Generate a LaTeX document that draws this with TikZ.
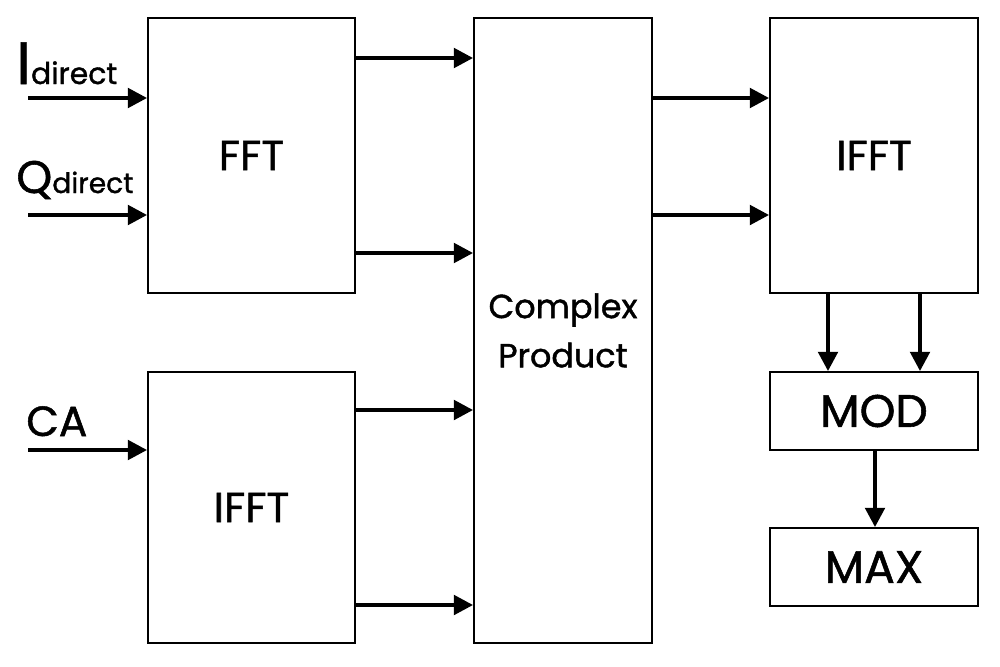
\documentclass[tikz,border=0pt]{standalone}
\usepackage{fontspec}
\setmainfont{Poppins}[FakeBold=1.2]
\usetikzlibrary{arrows.meta}
\begin{document}
\begin{tikzpicture}[x=0.02cm,y=-0.02cm,
  box/.style={draw,line width=1pt},
  arr/.style={line width=2.4pt,-{Triangle[length=11pt,width=11pt]}},
  lab/.style={anchor=base west,inner sep=0pt}]
\useasboundingbox (0,0) rectangle (1000,666);
\node[box,minimum width=207*0.02cm,minimum height=275*0.02cm,font=\fontsize{24}{24}\selectfont] (fft) at (251.5,155.5) {FFT};
\node[box,minimum width=207*0.02cm,minimum height=271*0.02cm,font=\fontsize{24}{24}\selectfont] (ifft1) at (251.5,507.5) {IFFT};
\node[box,minimum width=178*0.02cm,minimum height=625*0.02cm,font=\fontsize{19}{28}\selectfont,align=center] (cp) at (563,330.5) {Complex\\Product};
\node[box,minimum width=208*0.02cm,minimum height=275*0.02cm,font=\fontsize{24}{24}\selectfont] (ifft2) at (874,155.5) {IFFT};
\node[box,minimum width=208*0.02cm,minimum height=78*0.02cm,font=\fontsize{26}{26}\selectfont] (mod) at (874,411) {MOD};
\node[box,minimum width=208*0.02cm,minimum height=78*0.02cm,font=\fontsize{26}{26}\selectfont] (max) at (874,567) {MAX};
\node[lab] (li) at (16,84) {\fontsize{34}{34}\selectfont I\fontsize{17}{17}\selectfont direct};
\node[lab] (lq) at (16,193) {\fontsize{26}{26}\selectfont Q\fontsize{16}{16}\selectfont direct};
\node[lab] (lc) at (26,436) {\fontsize{24}{24}\selectfont CA};
\coordinate (i0) at (28,98); \coordinate (q0) at (28,215); \coordinate (c0) at (28,450);
\draw[arr] (i0) -- (fft.west|-i0);
\draw[arr] (q0) -- (fft.west|-q0);
\draw[arr] (c0) -- (ifft1.west|-c0);
\draw[arr] (fft.east|-0,58) -- (cp.west|-0,58);
\draw[arr] (fft.east|-0,253) -- (cp.west|-0,253);
\draw[arr] (ifft1.east|-0,410) -- (cp.west|-0,410);
\draw[arr] (ifft1.east|-0,605) -- (cp.west|-0,605);
\draw[arr] (cp.east|-0,98) -- (ifft2.west|-0,98);
\draw[arr] (cp.east|-0,215) -- (ifft2.west|-0,215);
\draw[arr] (ifft2.south-|828,0) -- (mod.north-|828,0);
\draw[arr] (ifft2.south-|920,0) -- (mod.north-|920,0);
\draw[arr] (mod.south-|875,0) -- (max.north-|875,0);
\end{tikzpicture}
\end{document}
